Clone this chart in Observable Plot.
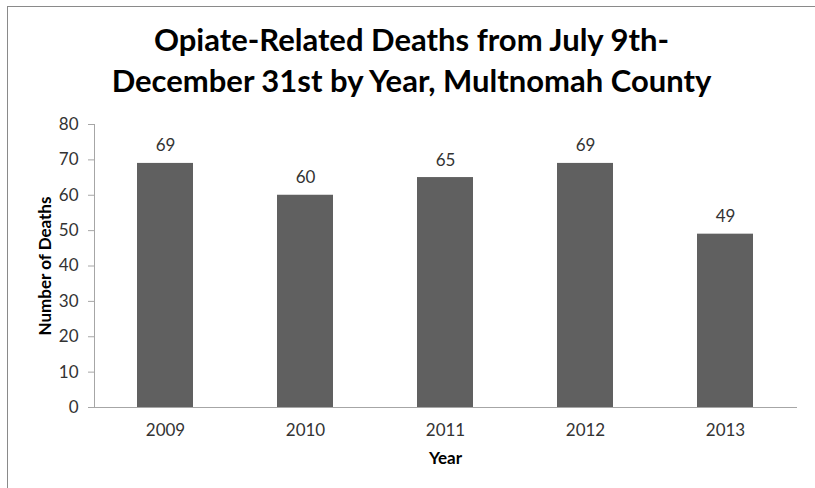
<!DOCTYPE html>
<html>
<head>
<meta charset="utf-8">
<script src="https://cdn.jsdelivr.net/npm/d3@7"></script>
<script src="https://cdn.jsdelivr.net/npm/@observablehq/plot@0.6"></script>
<style>
  html, body { margin: 0; padding: 0; background: #fff; }
  #wrap { position: relative; width: 815px; height: 488px; overflow: hidden; }
  #border { position: absolute; left: 7px; top: 6px; right: -10px; bottom: -10px;
            border-left: 1.5px solid #8a8a8a; border-top: 1.5px solid #8a8a8a; pointer-events: none; }
  #title { height: 110px; box-sizing: border-box; padding-top: 19px; padding-left: 8px;
           font-family: Lato, "Open Sans", sans-serif; font-weight: bold; font-size: 31px;
           line-height: 41px; text-align: center; color: #000; }
  #chart svg { display: block; }
</style>
</head>
<body>
<div id="wrap">
  <div id="title">Opiate-Related Deaths from July 9th-<br>December 31st by Year, Multnomah County</div>
  <div id="chart"></div>
  <div id="border"></div>
</div>
<script>
const years = ["2009", "2010", "2011", "2012", "2013"];
const deaths = [69, 60, 65, 69, 49];
const yTicks = [0, 10, 20, 30, 40, 50, 60, 70, 80];
const xTitle = "Year";
const yTitle = "Number of Deaths";

const data = years.map((y, i) => ({year: y, deaths: deaths[i]}));

const chart = Plot.plot({
  width: 815,
  height: 378,
  marginLeft: 94,
  marginRight: 19,
  marginTop: 14,
  marginBottom: 81,
  style: {fontFamily: "Lato, 'Open Sans', sans-serif", fontSize: "17px", color: "#333", background: "transparent"},
  x: {domain: years, paddingInner: 0.6, paddingOuter: 0.3, label: null},
  y: {domain: [0, 80], ticks: yTicks, label: null},
  marks: [
    Plot.barY(data, {x: "year", y: "deaths", fill: "#606060"}),
    Plot.text(data, {x: "year", y: "deaths", text: d => String(d.deaths), dy: -12, lineAnchor: "bottom", fill: "#333", fontSize: 17}),
    Plot.axisY({ticks: yTicks, tickSize: 6, tickPadding: 10, stroke: "#a6a6a6", fill: "#333", fontSize: 17, label: null}),
    Plot.axisX({tickSize: 0, tickPadding: 16, fill: "#333", fontSize: 17, label: null}),
    Plot.frame({anchor: "left", stroke: "#a6a6a6"}),
    Plot.frame({anchor: "bottom", stroke: "#a6a6a6"}),
    Plot.text([xTitle], {frameAnchor: "bottom", dy: 56, lineAnchor: "bottom", textAnchor: "middle", fontWeight: "bold", fill: "#000", fontSize: 17}),
    Plot.text([yTitle], {frameAnchor: "left", dx: -49, rotate: -90, textAnchor: "middle", lineAnchor: "middle", fontWeight: "bold", fill: "#000", fontSize: 17})
  ]
});
document.getElementById("chart").appendChild(chart);
</script>
</body>
</html>
